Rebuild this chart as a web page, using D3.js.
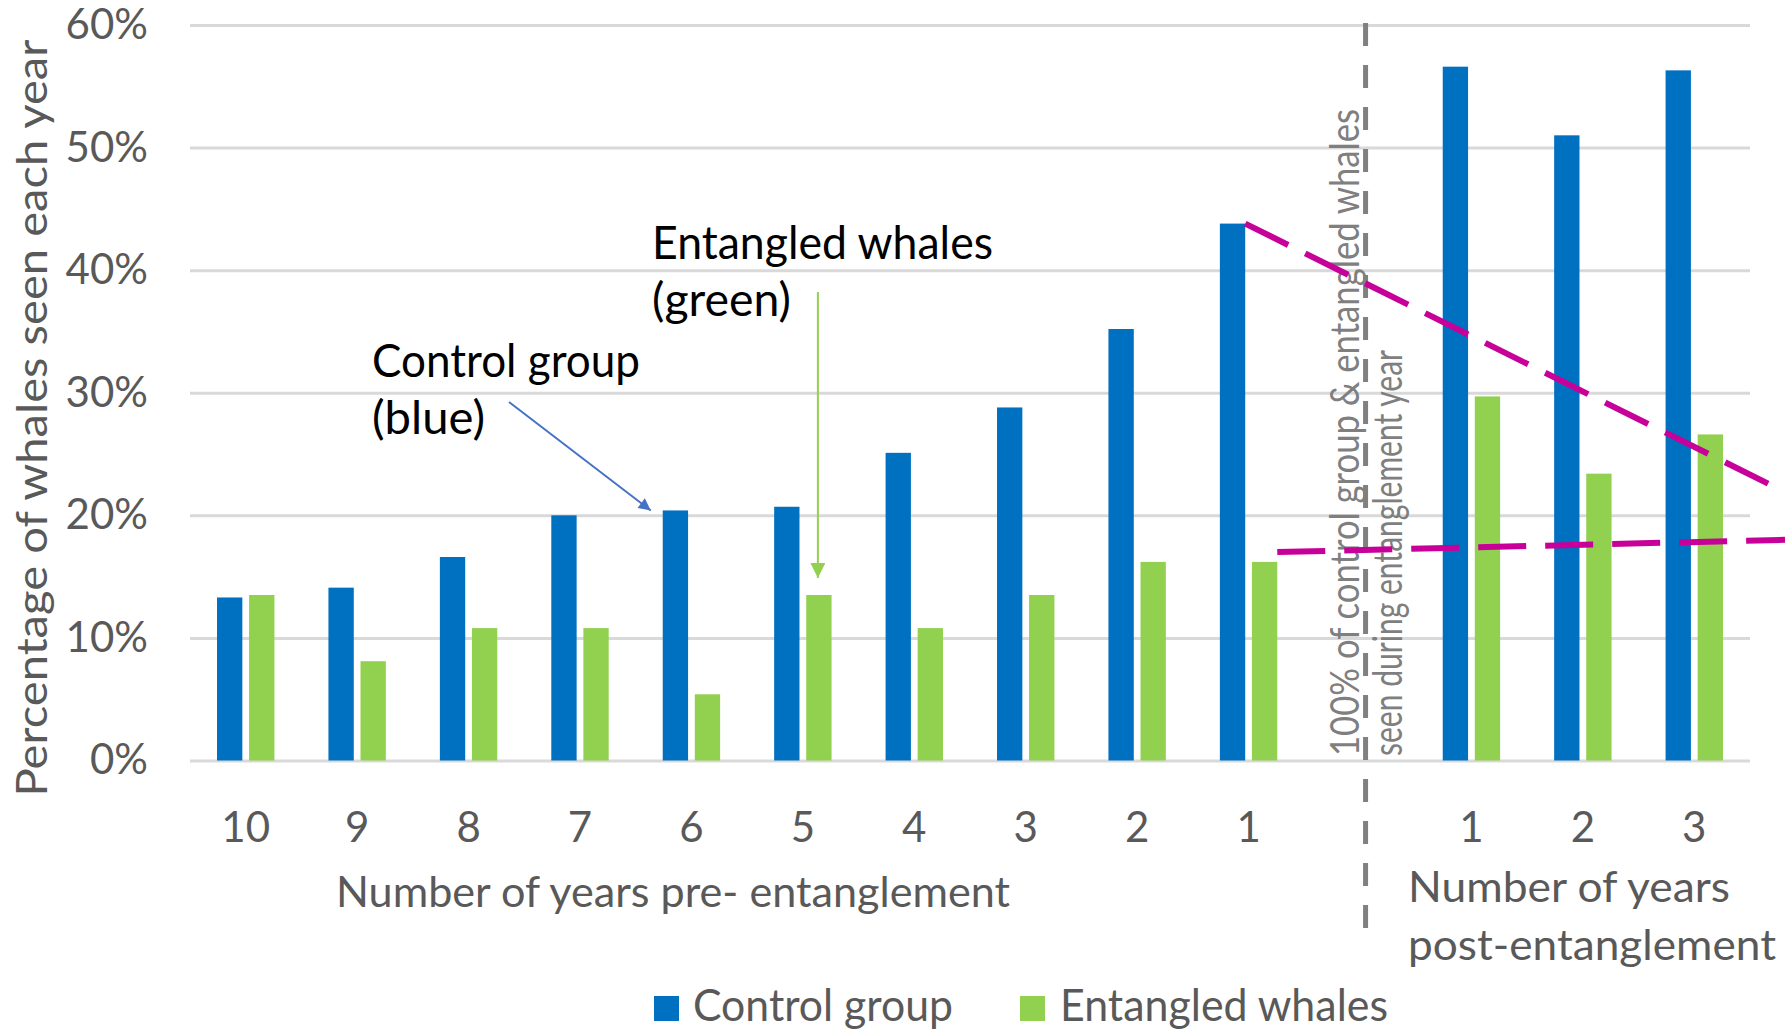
<!DOCTYPE html>
<html>
<head>
<meta charset="utf-8">
<script src="https://cdn.jsdelivr.net/npm/d3@7"></script>
<style>
  html, body { margin: 0; padding: 0; background: #fff; }
  svg { display: block; font-family: Lato, "Open Sans", sans-serif; }
</style>
</head>
<body>
<svg id="chart" width="1785" height="1030"></svg>
<script>
// Years relative to the entanglement year
const preYears = ["10", "9", "8", "7", "6", "5", "4", "3", "2", "1"];
const postYears = ["1", "2", "3"];

// Percentage of whales seen each year
const controlPre = [13.3, 14.1, 16.6, 20.0, 20.4, 20.7, 25.1, 28.8, 35.2, 43.8];
const entangledPre = [13.5, 8.1, 10.8, 10.8, 5.4, 13.5, 10.8, 13.5, 16.2, 16.2];
const controlPost = [56.6, 51.0, 56.3];
const entangledPost = [29.7, 23.4, 26.6];

const seriesNames = ["Control group", "Entangled whales"];
const seriesColors = ["#0070C0", "#92D050"];

const yTicks = [0, 10, 20, 30, 40, 50, 60];

// Hand-drawn trend lines: value at the 1-year-pre bar and at the right edge
const trendControl = [43.8, 21.9];
const trendEntangled = [17.0, 18.0];

// ---- rows: pre years, an empty slot for the entanglement year, post years
const rows = [
  ...preYears.map((yr, i) => ({ key: "pre" + yr, label: yr, values: [controlPre[i], entangledPre[i]] })),
  { key: "entanglement", label: "", values: [] },
  ...postYears.map((yr, i) => ({ key: "post" + yr, label: yr, values: [controlPost[i], entangledPost[i]] }))
];

const svg = d3.select("#chart");
const W = 1785;
const plotLeft = 190, plotRight = 1750, plotTop = 25, plotBottom = 760.5;
const axisColor = "#595959";

const x = d3.scaleBand().domain(rows.map(r => r.key)).range([plotLeft, plotRight]).padding(0);
const groupW = 57.4;
const xs = d3.scaleBand().domain([0, 1]).range([0, groupW]).paddingInner(0.21);
const off = (x.bandwidth() - groupW) / 2;
const y = d3.scaleLinear().domain([0, 60]).range([plotBottom, plotTop]);

// ---- gridlines + y labels
const yAxis = svg.append("g")
  .attr("transform", `translate(${plotLeft},0)`)
  .call(d3.axisLeft(y).tickValues(yTicks).tickSize(-(plotRight - plotLeft)).tickPadding(42).tickFormat(d => d + "%"));
yAxis.select(".domain").remove();
yAxis.selectAll(".tick line").attr("stroke", "#d9d9d9").attr("stroke-width", 3);
yAxis.selectAll(".tick text")
  .attr("fill", axisColor).attr("font-size", 42).attr("font-family", "Lato");

// ---- x labels
const xAxis = svg.append("g")
  .attr("transform", `translate(0,${plotBottom})`)
  .call(d3.axisBottom(x).tickSize(0).tickPadding(52)
    .tickFormat(k => rows.find(r => r.key === k).label));
xAxis.select(".domain").remove();
xAxis.selectAll(".tick text")
  .attr("fill", axisColor).attr("font-size", 42).attr("font-family", "Lato");

// ---- bars
const groups = svg.append("g").selectAll("g")
  .data(rows.filter(r => r.values.length))
  .join("g")
  .attr("transform", r => `translate(${x(r.key) + off},0)`);
groups.selectAll("rect")
  .data(r => r.values)
  .join("rect")
  .attr("x", (v, i) => xs(i))
  .attr("width", xs.bandwidth())
  .attr("y", v => y(v))
  .attr("height", v => y(0) - y(v))
  .attr("fill", (v, i) => seriesColors[i]);

// ---- entanglement-year divider
const divX = x("entanglement") + x.bandwidth() * 0.55;
svg.append("line")
  .attr("x1", divX).attr("x2", divX)
  .attr("y1", 23).attr("y2", 929)
  .attr("stroke", "#808080").attr("stroke-width", 5)
  .attr("stroke-dasharray", "23 19");

const noteG = svg.append("g")
  .attr("fill", "#7f7f7f").attr("font-size", 40).attr("font-family", "Lato");
[["100% of control group & entangled whales", -21, 647],
 ["seen during entanglement year", 22, 406]].forEach(([t, dx, len]) => {
  noteG.append("text")
    .attr("transform", `translate(${divX + dx},756) rotate(-90)`)
    .attr("dy", "0.36em")
    .attr("textLength", len).attr("lengthAdjust", "spacingAndGlyphs")
    .text(t);
});

// ---- trend lines
const lastPre = "pre1";
const trendX0c = x(lastPre) + off + xs(0) + xs.bandwidth();
const trendX0e = x(lastPre) + off + xs(1) + xs.bandwidth();
[[trendX0c, trendControl], [trendX0e, trendEntangled]].forEach(([x0, vals]) => {
  svg.append("line")
    .attr("x1", x0).attr("y1", y(vals[0]))
    .attr("x2", W).attr("y2", y(vals[1]))
    .attr("stroke", "#C7009A").attr("stroke-width", 6)
    .attr("stroke-dasharray", "48 19");
});

// ---- axis titles
svg.append("text")
  .attr("transform", `translate(32,418) rotate(-90)`)
  .attr("text-anchor", "middle").attr("dy", "0.36em")
  .attr("fill", axisColor).attr("font-size", 43)
  .attr("textLength", 757).attr("lengthAdjust", "spacingAndGlyphs")
  .text("Percentage of whales seen each year");

svg.append("text")
  .attr("x", 336).attr("y", 907)
  .attr("fill", axisColor).attr("font-size", 43)
  .attr("textLength", 674).attr("lengthAdjust", "spacingAndGlyphs")
  .text("Number of years pre- entanglement");

[["Number of years", 902, 322], ["post-entanglement", 960, 368]].forEach(([t, yy, len]) => {
  svg.append("text")
    .attr("x", 1408).attr("y", yy)
    .attr("fill", axisColor).attr("font-size", 43)
    .attr("textLength", len).attr("lengthAdjust", "spacingAndGlyphs")
    .text(t);
});

// ---- annotations with arrows
const defs = svg.append("defs");
seriesColors.forEach((c, i) => {
  defs.append("marker")
    .attr("id", "arrow" + i)
    .attr("viewBox", "0 0 10 10").attr("refX", 10).attr("refY", 5)
    .attr("markerWidth", i === 0 ? 7 : 7.5).attr("markerHeight", i === 0 ? 6 : 7.5)
    .attr("orient", "auto")
    .append("path").attr("d", "M0,0L10,5L0,10Z").attr("fill", i === 0 ? "#4472C4" : c);
});

const ctrlKey = "pre6", entKey = "pre5";
svg.append("line")
  .attr("x1", 509).attr("y1", 402)
  .attr("x2", x(ctrlKey) + off + xs(0) - 12).attr("y2", y(controlPre[preYears.indexOf("6")]))
  .attr("stroke", "#4472C4").attr("stroke-width", 2)
  .attr("marker-end", "url(#arrow0)");
const entArrowX = x(entKey) + off + xs(1) + xs.bandwidth() / 2 - 1;
svg.append("line")
  .attr("x1", entArrowX).attr("y1", 292)
  .attr("x2", entArrowX).attr("y2", y(entangledPre[preYears.indexOf("5")]) - 17)
  .attr("stroke", "#92D050").attr("stroke-width", 2)
  .attr("marker-end", "url(#arrow1)");

const notes = [
  ["Entangled whales", 652, 259, 341],
  ["(green)", 652, 316, 139],
  ["Control group", 372, 377, 268],
  ["(blue)", 372, 434, 113]
];
notes.forEach(([t, xx, yy, len]) => {
  svg.append("text")
    .attr("x", xx).attr("y", yy)
    .attr("fill", "#000").attr("font-size", 46)
    .attr("textLength", len).attr("lengthAdjust", "spacingAndGlyphs")
    .text(t);
});

// ---- legend
const legendItems = [
  { name: seriesNames[0], color: seriesColors[0], sx: 654, tx: 693, len: 260 },
  { name: seriesNames[1], color: seriesColors[1], sx: 1020, tx: 1060, len: 328 }
];
const leg = svg.append("g");
legendItems.forEach(d => {
  leg.append("rect").attr("x", d.sx).attr("y", 996).attr("width", 25).attr("height", 25).attr("fill", d.color);
  leg.append("text")
    .attr("x", d.tx).attr("y", 1021)
    .attr("fill", axisColor).attr("font-size", 44)
    .attr("textLength", d.len).attr("lengthAdjust", "spacingAndGlyphs")
    .text(d.name);
});
</script>
</body>
</html>
